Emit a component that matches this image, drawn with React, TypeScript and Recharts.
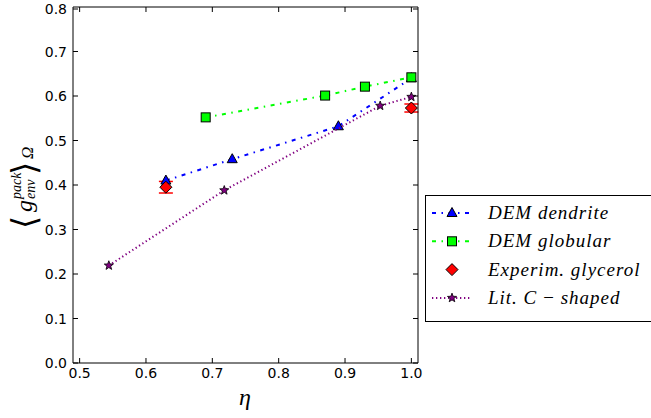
import React from 'react';
import { ScatterChart, Scatter, XAxis, YAxis, ErrorBar, Legend } from 'recharts';

// values
const dendriteEta = [0.63, 0.73, 0.89, 1.0];
const dendriteG = [0.41, 0.458, 0.532, 0.64];
const globularEta = [0.69, 0.87, 0.93, 1.0];
const globularG = [0.552, 0.601, 0.621, 0.642];
const glycerolEta = [0.63, 1.0];
const glycerolG = [0.395, 0.573];
const glycerolErr = [0.013, 0.009];
const cShapedEta = [0.544, 0.718, 0.953, 1.0];
const cShapedG = [0.219, 0.388, 0.578, 0.598];

const xTicks = [0.5, 0.6, 0.7, 0.8, 0.9, 1.0];
const yTicks = [0, 0.1, 0.2, 0.3, 0.4, 0.5, 0.6, 0.7, 0.8];
const seriesNames = ['DEM dendrite', 'DEM globular', 'Experim. glycerol', 'Lit. C\u2009\u2212\u2009shaped'];

const toPoints = (xs: number[], ys: number[], err?: number[]) =>
  xs.map((x, i) => ({ x, y: ys[i], err: err ? err[i] : undefined }));

const dendrite = toPoints(dendriteEta, dendriteG);
const globular = toPoints(globularEta, globularG);
const glycerol = toPoints(glycerolEta, glycerolG, glycerolErr);
const cShaped = toPoints(cShapedEta, cShapedG);

const tickFont = { fontFamily: 'DejaVu Sans', fontSize: 14, fill: '#000' };
const mathFont = { fontFamily: 'Liberation Serif', fontStyle: 'italic' as const };
const TICK = 5;

const BLUE = '#0000ff';
const GREEN = '#00ff00';
const RED = '#ff0000';
const PURPLE = '#800080';
const DASHDOT = '4 5.5 1.5 5.5';
const DOTTED = '1.3 2.7';

// markers
const Triangle = ({ cx, cy }: any) => (
  <polygon points={`${cx},${cy - 5.5} ${cx - 5},${cy + 3.5} ${cx + 5},${cy + 3.5}`} fill={BLUE} stroke="#000" strokeWidth={1} />
);
const Square = ({ cx, cy }: any) => (
  <rect x={cx - 4.5} y={cy - 4.5} width={9} height={9} fill={GREEN} stroke="#000" strokeWidth={1} />
);
const Diamond = ({ cx, cy }: any) => (
  <polygon points={`${cx},${cy - 6} ${cx + 6},${cy} ${cx},${cy + 6} ${cx - 6},${cy}`} fill={RED} stroke="#000" strokeWidth={1} />
);
const Star = ({ cx, cy }: any) => {
  const pts: string[] = [];
  for (let i = 0; i < 10; i++) {
    const r = i % 2 === 0 ? 4.8 : 2;
    const a = -Math.PI / 2 + (i * Math.PI) / 5;
    pts.push(`${cx + r * Math.cos(a)},${cy + r * Math.sin(a)}`);
  }
  return <polygon points={pts.join(' ')} fill={PURPLE} stroke="#000" strokeWidth={0.8} />;
};

// inward ticks on all four sides
const BottomTick = ({ x, y, payload }: any) => (
  <g>
    <line x1={x} x2={x} y1={y} y2={y - TICK} stroke="#000" />
    <text x={x} y={y + 15} textAnchor="middle" {...tickFont}>{payload.value.toFixed(1)}</text>
  </g>
);
const TopTick = ({ x, y }: any) => <line x1={x} x2={x} y1={y} y2={y + TICK} stroke="#000" />;
const LeftTick = ({ x, y, payload }: any) => (
  <g>
    <line x1={x} x2={x + TICK} y1={y} y2={y} stroke="#000" />
    <text x={x - 6} y={y + 5} textAnchor="end" {...tickFont}>{payload.value.toFixed(1)}</text>
  </g>
);
const RightTick = ({ x, y }: any) => <line x1={x} x2={x - TICK} y1={y} y2={y} stroke="#000" />;

const legendRows = [
  { name: seriesNames[0], color: BLUE, dash: DASHDOT, Marker: Triangle },
  { name: seriesNames[1], color: GREEN, dash: DASHDOT, Marker: Square },
  { name: seriesNames[2], color: null, dash: '', Marker: Diamond },
  { name: seriesNames[3], color: PURPLE, dash: DOTTED, Marker: Star },
];

const LegendBox = () => (
  <svg width={240} height={127} style={{ display: 'block' }}>
    <rect x={0.5} y={0.5} width={260} height={126} fill="#fff" stroke="#000" strokeWidth={1} />
    {legendRows.map((r, i) => {
      const cy = 18 + i * 28.3;
      return (
        <g key={r.name}>
          {r.color && <line x1={7} x2={46} y1={cy} y2={cy} stroke={r.color} strokeWidth={2} strokeDasharray={r.dash} />}
          <r.Marker cx={27} cy={cy} />
          <text x={63} y={cy + 6} fontSize={19} letterSpacing={1} {...mathFont} fill="#000">{r.name}</text>
        </g>
      );
    })}
  </svg>
);

export default function App() {
  return (
    <div style={{ position: 'absolute', left: 0, top: 0, width: 651, height: 418, background: '#fff', overflow: 'hidden' }}>
      <ScatterChart width={651} height={418} margin={{ top: 6, right: 232, bottom: 35, left: 33 }}>
        <XAxis xAxisId="b" type="number" dataKey="x" domain={[0.49, 1.01]} ticks={xTicks} height={20}
          tickSize={0} tickMargin={0} tickLine={false} tick={BottomTick} axisLine={{ stroke: '#000' }} allowDataOverflow />
        <XAxis xAxisId="t" orientation="top" type="number" dataKey="x" domain={[0.49, 1.01]} ticks={xTicks} height={1}
          tickSize={0} tickMargin={0} tickLine={false} tick={TopTick} axisLine={{ stroke: '#000' }} allowDataOverflow />
        <YAxis yAxisId="l" type="number" dataKey="y" domain={[0, 0.8]} ticks={yTicks} width={40}
          tickSize={0} tickMargin={0} tickLine={false} tick={LeftTick} axisLine={{ stroke: '#000' }} allowDataOverflow />
        <YAxis yAxisId="r" orientation="right" type="number" dataKey="y" domain={[0, 0.8]} ticks={yTicks} width={1}
          tickSize={0} tickMargin={0} tickLine={false} tick={RightTick} axisLine={{ stroke: '#000' }} allowDataOverflow />
        <Legend layout="horizontal" verticalAlign="middle" align="center" content={LegendBox}
          wrapperStyle={{ position: 'absolute', left: 425, top: 195, width: 240, height: 127 }} />
        <Scatter name={seriesNames[0]} data={dendrite} xAxisId="b" yAxisId="l" shape={Triangle} isAnimationActive={false}
          line={{ stroke: BLUE, strokeWidth: 2, strokeDasharray: DASHDOT }} />
        <Scatter name={seriesNames[1]} data={globular} xAxisId="b" yAxisId="l" shape={Square} isAnimationActive={false}
          line={{ stroke: GREEN, strokeWidth: 2, strokeDasharray: DASHDOT }} />
        <Scatter name={seriesNames[2]} data={glycerol} xAxisId="b" yAxisId="l" shape={Diamond} isAnimationActive={false}>
          <ErrorBar dataKey="err" direction="y" width={7} stroke={RED} strokeWidth={1.5} isAnimationActive={false} />
        </Scatter>
        <Scatter name={seriesNames[3]} data={cShaped} xAxisId="b" yAxisId="l" shape={Star} isAnimationActive={false}
          line={{ stroke: PURPLE, strokeWidth: 2, strokeDasharray: DOTTED }} />
      </ScatterChart>
      <svg width={651} height={418} style={{ position: 'absolute', left: 0, top: 0, pointerEvents: 'none' }}>
        <text x={245} y={405} textAnchor="middle" fontSize={24} {...mathFont}>η</text>
        <g transform="translate(32,187) rotate(-90)" {...mathFont}>
          <text x={-42} y={4} fontSize={34} fontFamily="DejaVu Serif" fontStyle="normal">⟨</text>
          <text x={-25} y={0} fontSize={24}>g</text>
          <text x={-12} y={-11} fontSize={14}>pack</text>
          <text x={-12} y={3} fontSize={14}>env</text>
          <text x={12} y={4} fontSize={34} fontFamily="DejaVu Serif" fontStyle="normal">⟩</text>
          <text x={28} y={1} fontSize={17}>Ω</text>
        </g>
      </svg>
    </div>
  );
}
